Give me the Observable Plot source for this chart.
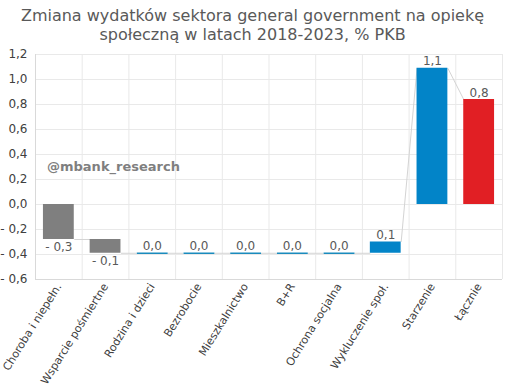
<!DOCTYPE html>
<html>
<head>
<meta charset="utf-8">
<script src="https://cdn.jsdelivr.net/npm/d3@7"></script>
<script src="https://cdn.jsdelivr.net/npm/@observablehq/plot@0.6"></script>
<style>
  html, body { margin: 0; padding: 0; background: #fff; }
  #wrap { position: relative; width: 505px; height: 390px; font-family: "DejaVu Sans", Verdana, sans-serif; }
  #title { height: 46px; box-sizing: border-box; padding-top: 6px; text-align: center; font-size: 16px; line-height: 19px; color: #595959; }
  #mark { position: absolute; left: 47px; top: 159px; font-size: 13px; font-weight: bold; color: #7f7f7f; }
  svg { display: block; }
</style>
</head>
<body>
<div id="wrap">
  <div id="title">Zmiana wydatków sektora general government na opiekę<br>społeczną w latach 2018-2023, % PKB</div>
  <div id="chart"></div>
  <div id="mark">@mbank_research</div>
</div>
<script>
const categories = ["Choroba i niepełn.", "Wsparcie pośmiertne", "Rodzina i dzieci", "Bezrobocie", "Mieszkalnictwo", "B+R", "Ochrona socjalna", "Wykluczenie społ.", "Starzenie", "Łącznie"];
const changes = [-0.28, -0.11, 0.0, 0.0, 0.0, 0.0, 0.0, 0.09, 1.09, 0.84];
const startsAtZero = [false, false, false, false, false, false, false, false, true, true];
const isTotal = [false, false, false, false, false, false, false, false, false, true];
const yTicks = [-0.6, -0.4, -0.2, 0, 0.2, 0.4, 0.6, 0.8, 1.0, 1.2];

const fmt = v => (v < -0.0001 ? "- " : "") + Math.abs(v).toFixed(1).replace(".", ",");
const gray = "#7f7f7f", blue = "#0284c8", red = "#e11f24";

let cum = 0;
const rows = categories.map((c, i) => {
  const v = changes[i];
  const base = startsAtZero[i] ? 0 : cum;
  const end = startsAtZero[i] ? v : cum + v;
  cum = end;
  return {i, c, v, base, end, color: isTotal[i] ? red : (v < 0 ? gray : blue)};
});
const hw = 0.33;
const links = rows.slice(0, -1).map((r, k) => {
  const n = rows[k + 1];
  return {x1: r.i + hw, x2: n.i - hw, y1: r.end, y2: startsAtZero[n.i] ? n.end : n.base};
});

const chart = Plot.plot({
  width: 505,
  height: 344,
  marginTop: 8,
  marginBottom: 111,
  marginLeft: 35,
  marginRight: 3,
  style: {fontFamily: "DejaVu Sans, Verdana, sans-serif", fontSize: "12px", color: "#595959", background: "#fff"},
  x: {domain: [-0.5, 9.5]},
  y: {domain: [-0.6, 1.2]},
  marks: [
    Plot.gridY(yTicks, {stroke: "#e9e9e9", strokeOpacity: 1}),
    Plot.gridX(d3.range(-0.5, 10, 1), {stroke: "#e9e9e9", strokeOpacity: 1}),
    Plot.ruleX([-0.5], {stroke: "#d9d9d9"}),
    Plot.ruleY([-0.6], {stroke: "#d9d9d9"}),
    Plot.link(links, {x1: "x1", x2: "x2", y1: "y1", y2: "y2", stroke: "#d4d4d4", strokeWidth: 1}),
    Plot.rect(rows.filter(d => d.v !== 0), {x1: d => d.i - hw, x2: d => d.i + hw, y1: "base", y2: "end", fill: "color"}),
    Plot.link(rows.filter(d => d.v === 0), {x1: d => d.i - hw, x2: d => d.i + hw, y1: "end", y2: "end", stroke: "#1a8bbd", strokeWidth: 1.5}),
    Plot.text(rows.filter(d => d.v >= 0), {x: "i", y: "end", text: d => fmt(d.v), fill: "#595959", fontSize: 12,
      lineAnchor: "bottom", dy: -3}),
    Plot.text(rows.filter(d => d.v < 0), {x: "i", y: "end", text: d => fmt(d.v), fill: "#595959", fontSize: 12,
      lineAnchor: "top", dy: 3}),
    Plot.axisY(yTicks, {tickFormat: fmt, tickSize: 0, tickPadding: 8, fontSize: 12, fill: "#404040", label: null}),
    Plot.axisX(d3.range(10), {tickFormat: i => categories[i], tickSize: 0, tickPadding: 5, tickRotate: -58, fontSize: 11, fill: "#404040", label: null})
  ]
});
document.getElementById("chart").appendChild(chart);
</script>
</body>
</html>
